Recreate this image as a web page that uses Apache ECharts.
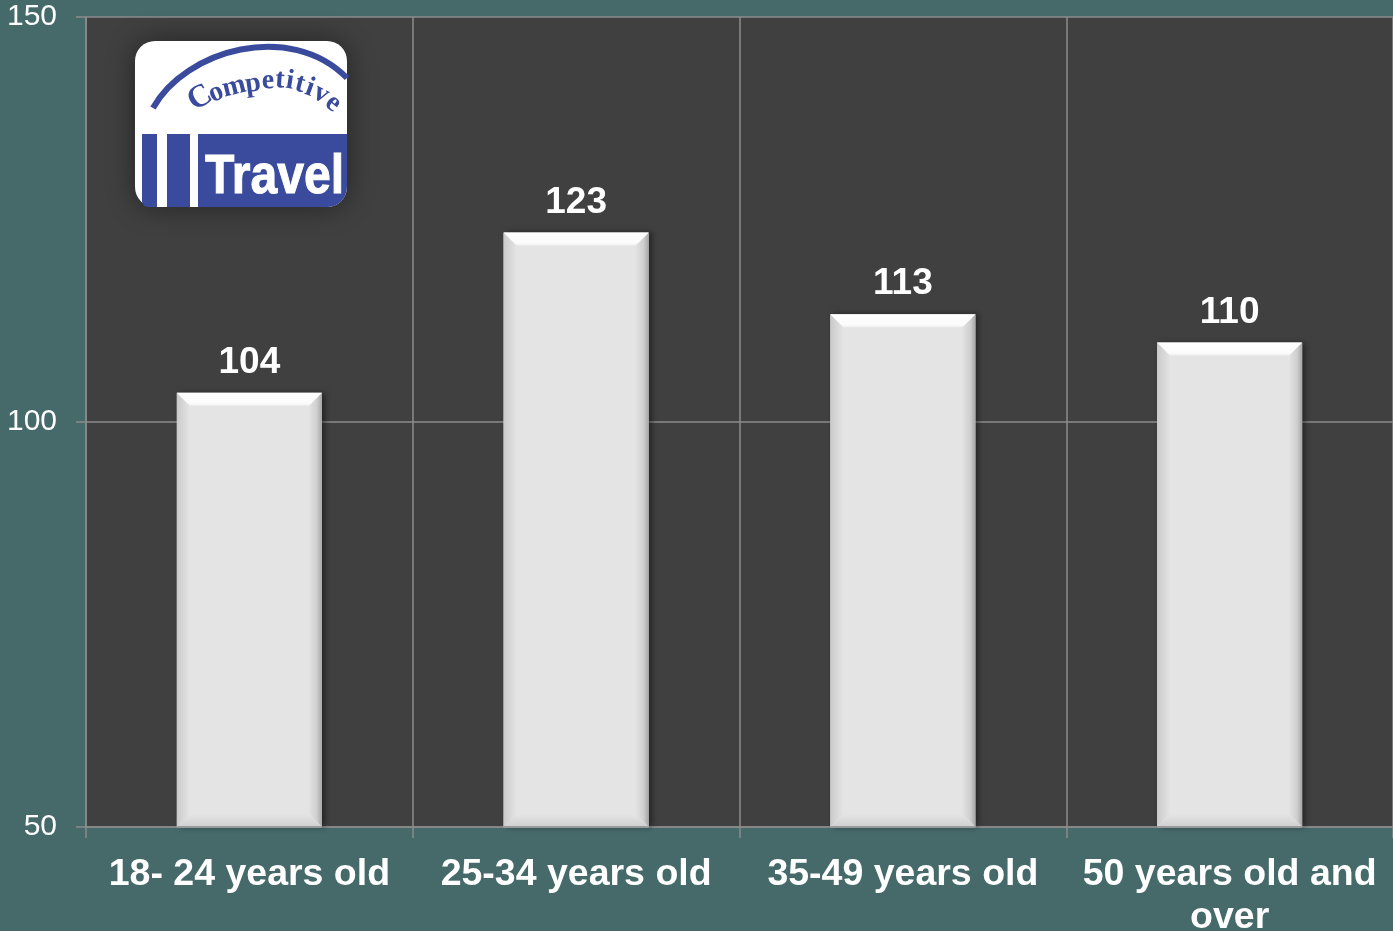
<!DOCTYPE html>
<html>
<head>
<meta charset="utf-8">
<script src="https://cdn.jsdelivr.net/npm/echarts@6/dist/echarts.min.js"></script>
<style>
html,body{margin:0;padding:0;background:#466a6a;}
#chart{width:1393px;height:931px;}
</style>
</head>
<body>
<div id="chart"></div>
<script>
var categories = ['18- 24 years old', '25-34 years old', '35-49 years old', '50 years old and over'];
var values = [103.6, 123.4, 113.3, 109.8];
var yTicks = {min: 50, max: 150, interval: 50};

var BLUE = '#3a4a9c';
var FONT = '"Liberation Sans", Arial, sans-serif';
var SERIF = '"Liberation Serif", "DejaVu Serif", serif';

function deg(d){ return d * Math.PI / 180; }

var letters = [
  ['C', 200, 98, 30, 32], ['o', 216, 93, 22, 28], ['m', 234, 87, 14, 28], ['p', 253, 84, 8, 28],
  ['e', 268, 81, 2, 28], ['t', 280, 80, -4, 28], ['i', 290, 81, -9, 28], ['t', 300, 84, -14, 28],
  ['i', 310, 88, -20, 28], ['v', 321, 94, -28, 28], ['e', 333, 103, -38, 28]
];

var logoChildren = [
  {type:'rect', shape:{x:135, y:41, width:212, height:166, r:20},
   style:{fill:'#ffffff', shadowBlur:28, shadowColor:'rgba(0,0,0,0.45)'}},
  {type:'bezierCurve', shape:{x1:153, y1:108, cpx1:185, cpy1:50, cpx2:290, cpy2:20, x2:347, y2:78},
   style:{stroke:BLUE, lineWidth:6, fill:null}},
  {type:'rect', shape:{x:142, y:134, width:15, height:73, r:[0,0,0,6]}, style:{fill:BLUE}},
  {type:'rect', shape:{x:167, y:134, width:23, height:73}, style:{fill:BLUE}},
  {type:'rect', shape:{x:198, y:134, width:149, height:73, r:[0,0,20,0]}, style:{fill:BLUE}},
  {type:'text', x:205, y:178, scaleX:0.86,
   style:{text:'Travel', x:0, y:0, font:'bold 56px ' + FONT, fill:'#ffffff',
          stroke:'#ffffff', lineWidth:1,
          align:'left', verticalAlign:'middle', textAlign:'left', textVerticalAlign:'middle'}}
];
letters.forEach(function(l){
  logoChildren.push({type:'text', x:l[1], y:l[2], rotation:deg(l[3]),
    style:{text:l[0], x:0, y:0, font:'bold ' + l[4] + 'px ' + SERIF, fill:BLUE,
           align:'center', verticalAlign:'middle', textAlign:'center', textVerticalAlign:'middle'}});
});

function renderBar(params, api){
  var idx = api.value(0), v = api.value(1);
  var top = api.coord([idx, v]);
  var bot = api.coord([idx, yTicks.min]);
  var w = api.size([1, 0])[0] * 0.444;
  var x0 = top[0] - w/2, x1 = top[0] + w/2, y0 = top[1], y1 = bot[1], b = 13;
  var G = echarts.graphic.LinearGradient;
  return {type:'group', children:[
    {type:'rect', shape:{x:x0, y:y0, width:w, height:y1-y0},
     style:{fill:'#e4e4e4', shadowBlur:6, shadowOffsetX:3, shadowOffsetY:0, shadowColor:'rgba(0,0,0,0.45)'}},
    {type:'polygon', shape:{points:[[x0,y0],[x0+b,y0+b],[x0+b,y1-b],[x0,y1]]},
     style:{fill:new G(0,0,1,0,[{offset:0,color:'#cacaca'},{offset:1,color:'#e4e4e4'}])}},
    {type:'polygon', shape:{points:[[x1,y0],[x1-b,y0+b],[x1-b,y1-b],[x1,y1]]},
     style:{fill:new G(0,0,1,0,[{offset:0,color:'#e2e2e2'},{offset:0.6,color:'#cfcfcf'},{offset:1,color:'#a6a6a6'}])}},
    {type:'polygon', shape:{points:[[x0,y1],[x0+b,y1-b],[x1-b,y1-b],[x1,y1]]},
     style:{fill:new G(0,0,0,1,[{offset:0,color:'#e4e4e4'},{offset:1,color:'#d0d0d0'}])}},
    {type:'polygon', shape:{points:[[x0,y0],[x1,y0],[x1-b,y0+b],[x0+b,y0+b]]},
     style:{fill:new G(0,0,0,1,[{offset:0,color:'#ffffff'},{offset:0.8,color:'#fbfbfb'},{offset:1,color:'#f0f0f0'}])}},
    {type:'line', shape:{x1:x0, y1:y1, x2:x1, y2:y1}, style:{stroke:'#9a9a9a', lineWidth:2}},
    {type:'text', x:top[0], y:y0 - 30,
     style:{text:String(Math.round(v)), x:0, y:0, font:'bold 37px ' + FONT, fill:'#ffffff',
            align:'center', verticalAlign:'middle', textAlign:'center', textVerticalAlign:'middle'}}
  ]};
}

var chart = echarts.init(document.getElementById('chart'));
var lineColor = '#8c8c8c';
chart.setOption({
  backgroundColor:'#466a6a',
  animation:false,
  grid:{left:86, right:0, top:17, bottom:104, show:true, backgroundColor:'#404040', borderWidth:0,
        containLabel:false, outerBoundsMode:'none'},
  xAxis:{
    type:'category', data:categories, boundaryGap:true,
    axisLine:{show:true, lineStyle:{color:lineColor, width:1.5}},
    axisTick:{show:true, length:11, interval:0, lineStyle:{color:lineColor, width:1.5}},
    splitLine:{show:true, interval:0, lineStyle:{color:lineColor, width:1.5}},
    axisLabel:{interval:0, margin:26, color:'#ffffff', fontFamily:FONT, fontWeight:'bold', fontSize:37.5,
               lineHeight:43,
               formatter:function(v){ return v.replace(' and over', ' and\nover'); }}
  },
  yAxis:{
    type:'value', min:yTicks.min, max:yTicks.max, interval:yTicks.interval,
    axisLine:{show:true, lineStyle:{color:lineColor, width:1.5}},
    axisTick:{show:true, length:10, lineStyle:{color:lineColor, width:1.5}},
    splitLine:{show:true, lineStyle:{color:lineColor, width:1.5}},
    axisLabel:{margin:29, color:'#ffffff', fontFamily:FONT, fontSize:30}
  },
  graphic:[{type:'group', z:100, children:logoChildren}],
  series:[{
    type:'custom', renderItem:renderBar, z:10,
    encode:{x:0, y:1},
    data:values.map(function(v, i){ return [i, v]; })
  }]
});
</script>
</body>
</html>
